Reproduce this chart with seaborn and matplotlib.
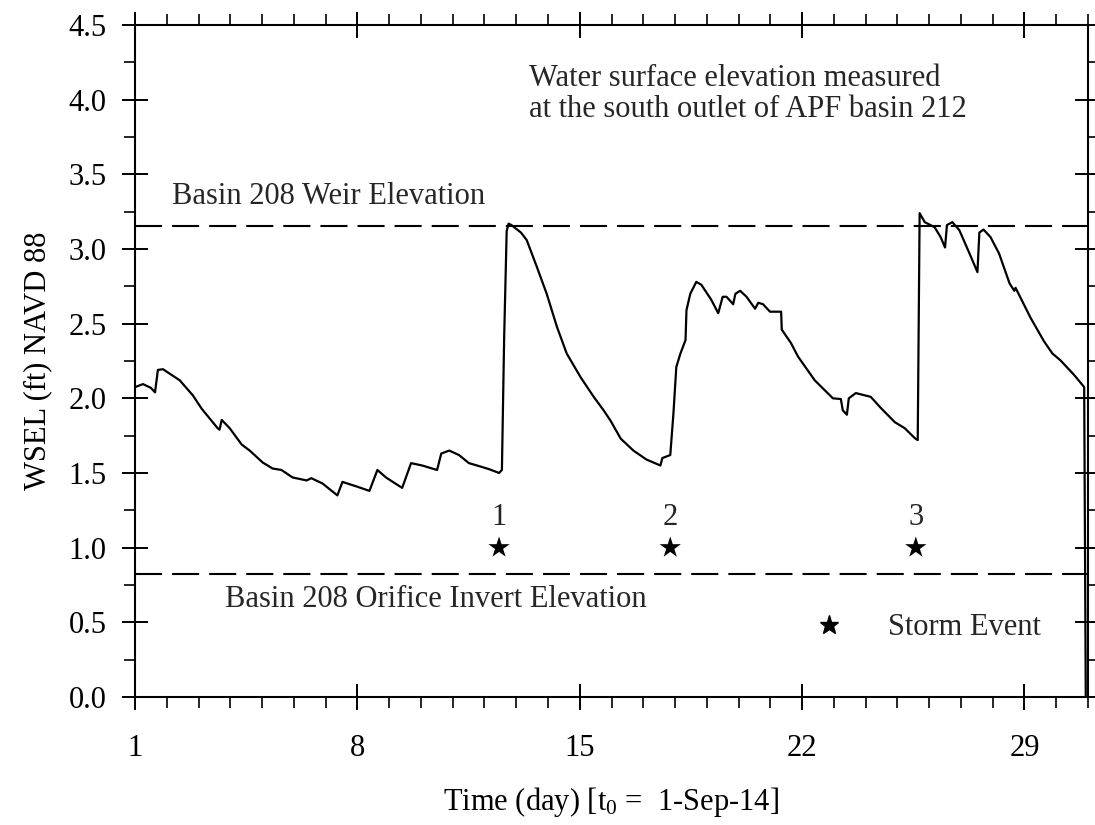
import matplotlib
matplotlib.use("Agg")
import matplotlib.pyplot as plt
import seaborn as sns
import pandas as pd
from matplotlib.ticker import MultipleLocator
from matplotlib.lines import Line2D

# ---- data ----
day = [1.00, 1.25, 1.50, 1.63, 1.72, 1.88, 2.41, 2.82, 3.10, 3.60,
       3.66, 3.73, 3.98, 4.36, 4.61, 5.02, 5.33, 5.61, 5.96, 6.40,
       6.55, 6.90, 7.37, 7.53, 7.97, 8.38, 8.63, 8.90, 9.41, 9.69,
       10.04, 10.51, 10.64, 10.89, 11.20, 11.51, 11.83, 12.14, 12.46, 12.55,
       12.62, 12.70, 12.76, 12.85, 13.15, 13.33, 13.65, 13.96, 14.28, 14.59,
       15.03, 15.44, 15.75, 15.97, 16.29, 16.69, 17.10, 17.54, 17.60, 17.85,
       17.95, 18.04, 18.17, 18.33, 18.36, 18.48, 18.67, 18.83, 19.14, 19.36,
       19.50, 19.62, 19.83, 19.90, 20.05, 20.25, 20.52, 20.62, 20.77, 20.99,
       21.34, 21.36, 21.65, 21.87, 22.40, 22.97, 23.22, 23.28, 23.41, 23.47,
       23.69, 24.16, 24.48, 24.92, 25.23, 25.55, 25.64, 25.70, 25.86, 26.17,
       26.36, 26.50, 26.56, 26.73, 26.95, 27.27, 27.52, 27.58, 27.71, 27.93,
       28.20, 28.53, 28.68, 28.72, 29.19, 29.62, 29.88, 30.13, 30.57, 30.88,
       30.93]
wsel = [2.075, 2.095, 2.07, 2.04, 2.19, 2.195, 2.12, 2.02, 1.93, 1.80,
        1.79, 1.855, 1.80, 1.69, 1.65, 1.57, 1.53, 1.52, 1.47, 1.45,
        1.465, 1.43, 1.35, 1.44, 1.41, 1.38, 1.52, 1.47, 1.40, 1.566,
        1.55, 1.52, 1.63, 1.65, 1.62, 1.566, 1.546, 1.526, 1.50, 1.52,
        2.40, 3.12, 3.17, 3.16, 3.11, 3.06, 2.88, 2.70, 2.48, 2.30,
        2.14, 2.01, 1.92, 1.85, 1.73, 1.65, 1.59, 1.55, 1.60, 1.62,
        1.90, 2.21, 2.30, 2.39, 2.59, 2.70, 2.78, 2.76, 2.66, 2.57,
        2.68, 2.68, 2.63, 2.70, 2.72, 2.68, 2.60, 2.64, 2.63, 2.58,
        2.58, 2.46, 2.37, 2.28, 2.12, 2.00, 1.995, 1.92, 1.89, 2.00,
        2.035, 2.01, 1.935, 1.84, 1.80, 1.733, 1.72, 3.24, 3.18, 3.146,
        3.08, 3.01, 3.16, 3.18, 3.126, 2.97, 2.845, 3.11, 3.13, 3.08,
        2.97, 2.77, 2.72, 2.74, 2.54, 2.38, 2.30, 2.255, 2.155, 2.075,
        0.0]

storm_day = [12.46, 17.85, 25.58]
storm_level = [1.0, 1.0, 1.0]
storm_labels = ["1", "2", "3"]

weir_elev = 3.155
orifice_elev = 0.825

x_ticks = [1, 8, 15, 22, 29]
y_ticks = [0.0, 0.5, 1.0, 1.5, 2.0, 2.5, 3.0, 3.5, 4.0, 4.5]

# ---- style ----
sns.set_theme(style="ticks")
plt.rcParams["font.family"] = ["Liberation Serif", "DejaVu Serif"]
plt.rcParams["mathtext.fontset"] = "custom"
plt.rcParams["mathtext.rm"] = "Liberation Serif"
plt.rcParams["mathtext.it"] = "Liberation Serif:italic"
FS = 22

fig = plt.figure(figsize=(10.95, 8.25), dpi=100)
ax = fig.add_axes([0.1233, 0.1552, 0.9936 - 0.1233, 0.9697 - 0.1552])

df = pd.DataFrame({"day": day, "wsel": wsel})
sns.lineplot(data=df, x="day", y="wsel", sort=False, estimator=None,
             color="black", lw=1.6, ax=ax, clip_on=False, zorder=5,
             solid_joinstyle="round")

sd = pd.DataFrame({"day": storm_day, "lvl": storm_level})
sns.scatterplot(data=sd, x="day", y="lvl", marker="*", s=260, color="black",
                edgecolor="none", ax=ax, zorder=6)
for d, lab in zip(storm_day, storm_labels):
    ax.text(d, 1.2, lab, ha="center", va="center", fontsize=FS)

for lvl in (weir_elev, orifice_elev):
    ax.axhline(lvl, color="black", lw=1.5, ls=(0, (13, 4.8)))

ax.text(2.16, 3.35, "Basin 208 Weir Elevation", fontsize=FS, ha="left", va="center")
ax.text(3.82, 0.65, "Basin 208 Orifice Invert Elevation", fontsize=FS, ha="left", va="center")
ax.text(13.4, 4.04, "Water surface elevation measured\nat the south outlet of APF basin 212",
        fontsize=FS, ha="left", va="center", linespacing=1.1)

ax.legend(handles=[Line2D([], [], marker="*", ls="none", color="black", ms=14)],
          labels=["Storm Event"], loc="center left", bbox_to_anchor=(0.699, 0.103),
          frameon=False, handletextpad=1.45, handlelength=1.0, fontsize=FS,
          borderaxespad=0)

ax.set_xlim(1, 31)
ax.set_ylim(0, 4.5)
ax.set_xticks(x_ticks)
ax.set_yticks(y_ticks)
ax.set_yticklabels([f"{v:.1f}" for v in y_ticks])
ax.xaxis.set_minor_locator(MultipleLocator(1))
ax.yaxis.set_minor_locator(MultipleLocator(0.25))
ax.tick_params(which="major", direction="inout", length=19, width=1.4,
               top=True, right=True, labelsize=FS, color="black", labelcolor="black")
ax.tick_params(which="minor", direction="out", length=8, width=1.2,
               top=True, right=True, color="black")
ax.tick_params(axis="x", which="major", pad=17)
ax.tick_params(axis="y", which="major", pad=11)
for sp in ax.spines.values():
    sp.set_visible(True)
    sp.set_color("black")
    sp.set_linewidth(1.5)

ax.set_xlabel(r"Time (day) [t$_0$ =  1-Sep-14]", fontsize=FS, labelpad=16, color="black")
ax.set_ylabel("WSEL (ft) NAVD 88", fontsize=FS, labelpad=12, color="black")

fig.savefig("out.png", dpi=100, facecolor="white")
